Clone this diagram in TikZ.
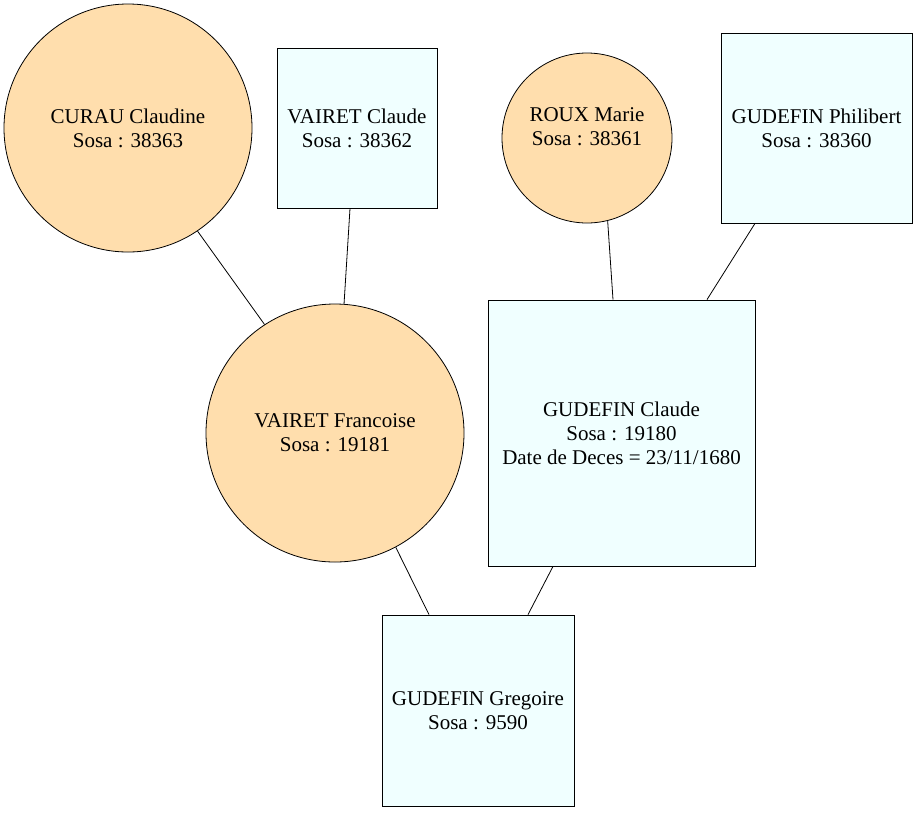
\documentclass[tikz,border=0pt]{standalone}
\usepackage{fontspec}
\newfontfamily\tnr{Liberation Serif}
\definecolor{peach}{HTML}{FFDEAD}
\definecolor{azurebg}{HTML}{F0FFFF}
\begin{document}
\begin{tikzpicture}[x=1pt,y=-1pt,
  every node/.style={font=\tnr\fontsize{21}{24}\selectfont, align=center, inner sep=0pt, line width=0.8pt},
  fem/.style={circle, draw=black, fill=peach},
  man/.style={rectangle, draw=black, fill=azurebg},
  link/.style={draw=black, line width=0.8pt}]
\useasboundingbox (0,0) rectangle (918,812);
\node[fem, minimum size=248pt] (curau) at (128,128) {CURAU Claudine\\Sosa : 38363};
\node[man, minimum width=160pt, minimum height=160pt] (vclaude) at (357,128) {VAIRET Claude\\Sosa : 38362};
\node[fem, minimum size=170pt] (roux) at (587,138) {};
\node at (587,127) {ROUX Marie\\Sosa : 38361};
\node[man, minimum width=191pt, minimum height=190pt] (phil) at (816.5,128) {GUDEFIN Philibert\\Sosa : 38360};
\node[fem, minimum size=258pt] (franc) at (335,433) {VAIRET Francoise\\Sosa : 19181};
\node[man, minimum width=267pt, minimum height=266pt] (gclaude) at (621.5,433) {GUDEFIN Claude\\Sosa : 19180\\Date de Deces = 23/11/1680};
\node[man, minimum width=192pt, minimum height=191pt] (greg) at (478,710.5) {GUDEFIN Gregoire\\Sosa : 9590};
\draw[link] (curau.-56.1) -- (franc.123.7);
\draw[link] ([xshift=-7pt]vclaude.south) -- (franc.86);
\draw[link] (roux.-76.7) -- ([xshift=-8.5pt]gclaude.north);
\draw[link] ([xshift=-61.5pt]phil.south) -- ([xshift=85.5pt]gclaude.north);
\draw[link] (franc.-62.3) -- ([xshift=-49pt]greg.north);
\draw[link] ([xshift=-68.5pt]gclaude.south) -- ([xshift=50pt]greg.north);
\end{tikzpicture}
\end{document}
